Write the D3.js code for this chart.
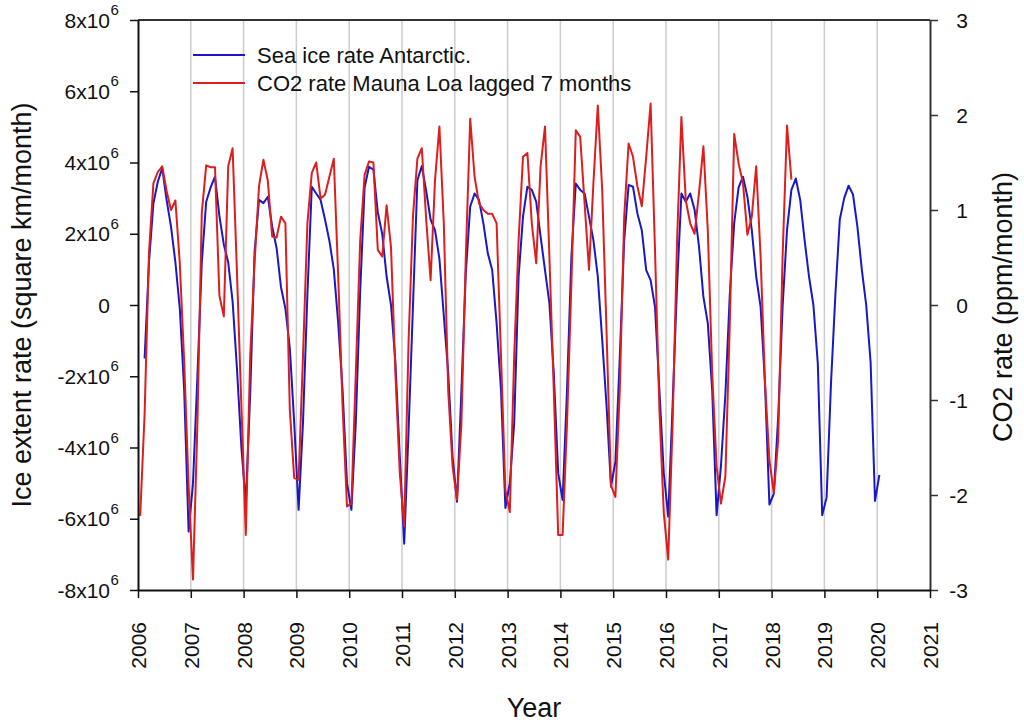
<!DOCTYPE html>
<html>
<head>
<meta charset="utf-8">
<script src="https://cdn.jsdelivr.net/npm/d3@7"></script>
<style>
  body { margin: 0; background: #fff; }
  text { font-family: "Liberation Sans", Arial, sans-serif; fill: #111; }
</style>
</head>
<body>
<div id="chart"></div>
<script>
// Antarctic sea ice extent rate, monthly from Feb 2006 to Jan 2020 (x10^6 km2/month)
const iceStart = { year: 2006, month: 2 };
const iceRate = [
  -1.5, 1.2, 2.85, 3.46, 3.84, 2.95, 2.2, 1.2, -0.1, -2.4, -6.36,
  -5.0, -2.0, 1.2, 2.9, 3.3, 3.6, 2.5, 1.7, 1.2, 0.1, -1.8, -4.0,
  -5.57, -2.5, 1.5, 2.95, 2.86, 3.04, 2.2, 1.6, 0.5, -0.1, -1.2, -3.3,
  -5.75, -3.3, 0.3, 3.32, 3.13, 2.95, 2.4, 1.8, 1.0, -0.5, -2.4, -5.0,
  -5.75, -3.3, 0.4, 3.3, 3.88, 3.8, 2.6, 2.0, 0.8, 0.0, -1.6, -4.26,
  -6.7, -3.5, 0.0, 3.5, 3.9, 3.2, 2.4, 2.1, 1.3, -0.3, -1.9, -4.26,
  -5.52, -2.4, 0.9, 2.76, 3.13, 2.95, 2.29, 1.45, 0.98, -0.51, -2.39, -5.7,
  -5.0, -3.32, 0.8, 2.48, 3.32, 3.23, 2.9, 1.92, 0.98, 0.05, -1.92, -4.72,
  -5.47, -2.39, 1.36, 3.41, 3.23, 3.13, 2.48, 1.82, 0.8, -0.98, -2.85, -5.1,
  -4.4, -1.45, 1.82, 3.37, 3.32, 2.57, 2.1, 0.98, 0.7, -0.05, -2.39, -4.72,
  -5.94, -2.8, 0.5, 3.13, 2.9, 3.13, 2.67, 1.64, 0.23, -0.51, -2.39, -5.9,
  -4.5, -2.5, 0.3, 2.3, 3.3, 3.6, 3.04, 2.1, 0.8, -0.05, -2.2, -5.6,
  -5.3, -3.13, -0.05, 2.1, 3.23, 3.55, 2.95, 1.82, 0.8, 0.0, -1.64, -5.9,
  -5.4, -2.2, 0.3, 2.4, 3.0, 3.35, 3.1, 2.2, 1.0, 0.0, -1.6, -5.5,
  -4.77
];

// CO2 rate Mauna Loa lagged 7 months, monthly from Jan 2006 to May 2018 (ppm/month)
const co2Start = { year: 2006, month: 1 };
const co2Rate = [
  -2.22, -1.15, 0.55, 1.28, 1.4, 1.46, 1.2, 1.0, 1.1, 0.44, -0.6, -1.9,
  -2.89, -1.25, 0.97, 1.47, 1.45, 1.45, 0.1, -0.12, 1.46, 1.65, 0.33, -1.07,
  -2.42, -0.54, 0.45, 1.25, 1.53, 1.31, 0.72, 0.71, 0.93, 0.86, -1.1, -1.82,
  -1.84, -0.54, 0.86, 1.39, 1.5, 1.12, 1.16, 1.35, 1.54, 0.3, -1.07, -2.12,
  -2.09, -0.72, 0.68, 1.37, 1.51, 1.5, 0.58, 0.51, 1.05, 0.61, -0.72, -1.77,
  -2.33, -0.37, 0.94, 1.54, 1.65, 0.9, 0.26, 1.31, 1.88, 0.86, -0.9, -1.7,
  -2.05, -1.25, 0.51, 1.96, 1.35, 1.07, 1.0, 0.96, 0.96, 0.86, -0.54, -1.95,
  -2.18, -0.54, 0.68, 1.56, 1.6, 0.86, 0.44, 1.46, 1.88, 0.51, -0.9, -2.42,
  -2.42, -1.25, 0.23, 1.84, 1.77, 1.07, 0.37, 1.28, 2.1, 1.21, -0.3, -1.9,
  -2.02, -0.89, 0.93, 1.7, 1.56, 1.25, 1.04, 1.56, 2.12, 0.58, -1.1, -2.19,
  -2.68, -1.25, 0.65, 1.98, 1.1, 0.86, 0.75, 1.18, 1.67, 0.79, -0.72, -1.7,
  -2.09, -1.8, -0.19, 1.8, 1.49, 1.28, 0.74, 0.93, 1.46, 0.51, -0.82, -1.63,
  -1.98, -1.42, 0.51, 1.89, 1.32
];

const yearTicks = [2006, 2007, 2008, 2009, 2010, 2011, 2012, 2013, 2014, 2015, 2016, 2017, 2018, 2019, 2020, 2021];
const gridYears = [2007, 2008, 2009, 2010, 2011, 2012, 2013, 2014, 2015, 2016, 2017, 2018, 2019, 2020];
const iceTicks = [-8, -6, -4, -2, 0, 2, 4, 6, 8];
const co2Ticks = [-3, -2, -1, 0, 1, 2, 3];

const margin = { top: 20, right: 94, bottom: 132, left: 138 },
    width = 1024 - margin.left - margin.right,
    height = 722 - margin.top - margin.bottom;

const blue = "#1818c8", red = "#dd1e1e";

const svg = d3.select("#chart")
    .append("svg")
    .attr("width", 1024)
    .attr("height", 722)
    .append("g")
    .attr("transform", `translate(${margin.left}, ${margin.top})`);

// turn the series into (decimal year, value) pairs, values plotted mid-month
function monthly(start, values) {
    return values.map((v, i) => {
        const m = start.month - 1 + i;
        return { t: start.year + Math.floor(m / 12) + ((m % 12) + 0.5) / 12, v: v };
    });
}
const iceData = monthly(iceStart, iceRate);
const co2Data = monthly(co2Start, co2Rate);

const x = d3.scaleLinear().domain([2006, 2021]).range([0, width]);
const yIce = d3.scaleLinear().domain([-8, 8]).range([height, 0]);
const yCo2 = d3.scaleLinear().domain([-3, 3]).range([height, 0]);

// vertical year grid
svg.append("g")
    .selectAll("line")
    .data(gridYears)
    .join("line")
    .attr("x1", d => x(d)).attr("x2", d => x(d))
    .attr("y1", 0).attr("y2", height)
    .attr("stroke", "#cccccc")
    .attr("stroke-width", 1.5);

// series
svg.append("path")
    .datum(iceData)
    .attr("fill", "none")
    .attr("stroke", blue)
    .attr("stroke-width", 2)
    .attr("stroke-linejoin", "round")
    .attr("d", d3.line().x(d => x(d.t)).y(d => yIce(d.v)));

svg.append("path")
    .datum(co2Data)
    .attr("fill", "none")
    .attr("stroke", red)
    .attr("stroke-width", 2)
    .attr("stroke-linejoin", "round")
    .attr("d", d3.line().x(d => x(d.t)).y(d => yCo2(d.v)));

// top frame line
svg.append("line")
    .attr("x1", 0).attr("x2", width)
    .attr("y1", 0).attr("y2", 0)
    .attr("stroke", "#333")
    .attr("stroke-width", 2);

// left axis, labels drawn separately for the 10^6 superscript
const leftAxis = svg.append("g")
    .call(d3.axisLeft(yIce).tickValues(iceTicks).tickSize(8).tickSizeOuter(0).tickFormat(""));
leftAxis.select(".domain").attr("stroke", "#111").attr("stroke-width", 2);
leftAxis.selectAll(".tick line").attr("stroke", "#111").attr("stroke-width", 1.5);

const iceLabels = svg.append("g").selectAll("g")
    .data(iceTicks)
    .join("g")
    .attr("transform", d => `translate(-28, ${yIce(d)})`);
iceLabels.append("text")
    .attr("text-anchor", "end")
    .attr("dy", "0.36em")
    .style("font-size", "21px")
    .text(d => d === 0 ? "0" : `${d}x10`);
iceLabels.filter(d => d !== 0).append("text")
    .attr("x", 0.5)
    .attr("y", -5)
    .style("font-size", "15px")
    .text("6");

// right axis
const rightAxis = svg.append("g")
    .attr("transform", `translate(${width}, 0)`)
    .call(d3.axisRight(yCo2).tickValues(co2Ticks).tickSize(8).tickSizeOuter(0).tickFormat(d => String(d)));
rightAxis.select(".domain").attr("stroke", "#333").attr("stroke-width", 2);
rightAxis.selectAll(".tick line").attr("stroke", "#333").attr("stroke-width", 1.5);
rightAxis.selectAll(".tick text")
    .attr("x", 38)
    .attr("text-anchor", "end")
    .attr("dy", "0.36em")
    .style("font-size", "21px")
    .style("font-family", "Liberation Sans, Arial, sans-serif")
    .attr("fill", "#111");

// bottom axis with rotated year labels
const bottomAxis = svg.append("g")
    .attr("transform", `translate(0, ${height})`)
    .call(d3.axisBottom(x).tickValues(yearTicks).tickSize(8).tickSizeOuter(0).tickFormat(d => String(d)));
bottomAxis.select(".domain").attr("stroke", "#111").attr("stroke-width", 2);
bottomAxis.selectAll(".tick line").attr("stroke", "#111").attr("stroke-width", 1.5);
bottomAxis.selectAll(".tick text")
    .attr("x", -32)
    .attr("y", 0)
    .attr("dy", "0.36em")
    .attr("text-anchor", "end")
    .attr("transform", "rotate(-90)")
    .style("font-size", "21px")
    .style("font-family", "Liberation Sans, Arial, sans-serif")
    .attr("fill", "#111");

// axis titles
svg.append("text")
    .attr("transform", `translate(${31 - margin.left}, ${height / 2}) rotate(-90)`)
    .attr("text-anchor", "middle")
    .style("font-size", "27px")
    .text("Ice extent rate (square km/month)");

svg.append("text")
    .attr("transform", `translate(${1012 - margin.left}, ${height / 2 + 2}) rotate(-90)`)
    .attr("text-anchor", "middle")
    .style("font-size", "27px")
    .text("CO2 rate (ppm/month)");

svg.append("text")
    .attr("x", width / 2)
    .attr("y", 717 - margin.top)
    .attr("text-anchor", "middle")
    .style("font-size", "27px")
    .text("Year");

// legend
const legend = [
    { name: "Sea ice rate Antarctic.", color: blue },
    { name: "CO2 rate Mauna Loa lagged 7 months", color: red }
];
const legendRows = svg.append("g")
    .selectAll("g")
    .data(legend)
    .join("g")
    .attr("transform", (d, i) => `translate(${193 - margin.left}, ${55 - margin.top + i * 28})`);
legendRows.append("line")
    .attr("x1", 0).attr("x2", 52)
    .attr("stroke", d => d.color)
    .attr("stroke-width", 2);
legendRows.append("text")
    .attr("x", 64)
    .attr("dy", "0.36em")
    .style("font-size", "22px")
    .text(d => d.name);
</script>
</body>
</html>
